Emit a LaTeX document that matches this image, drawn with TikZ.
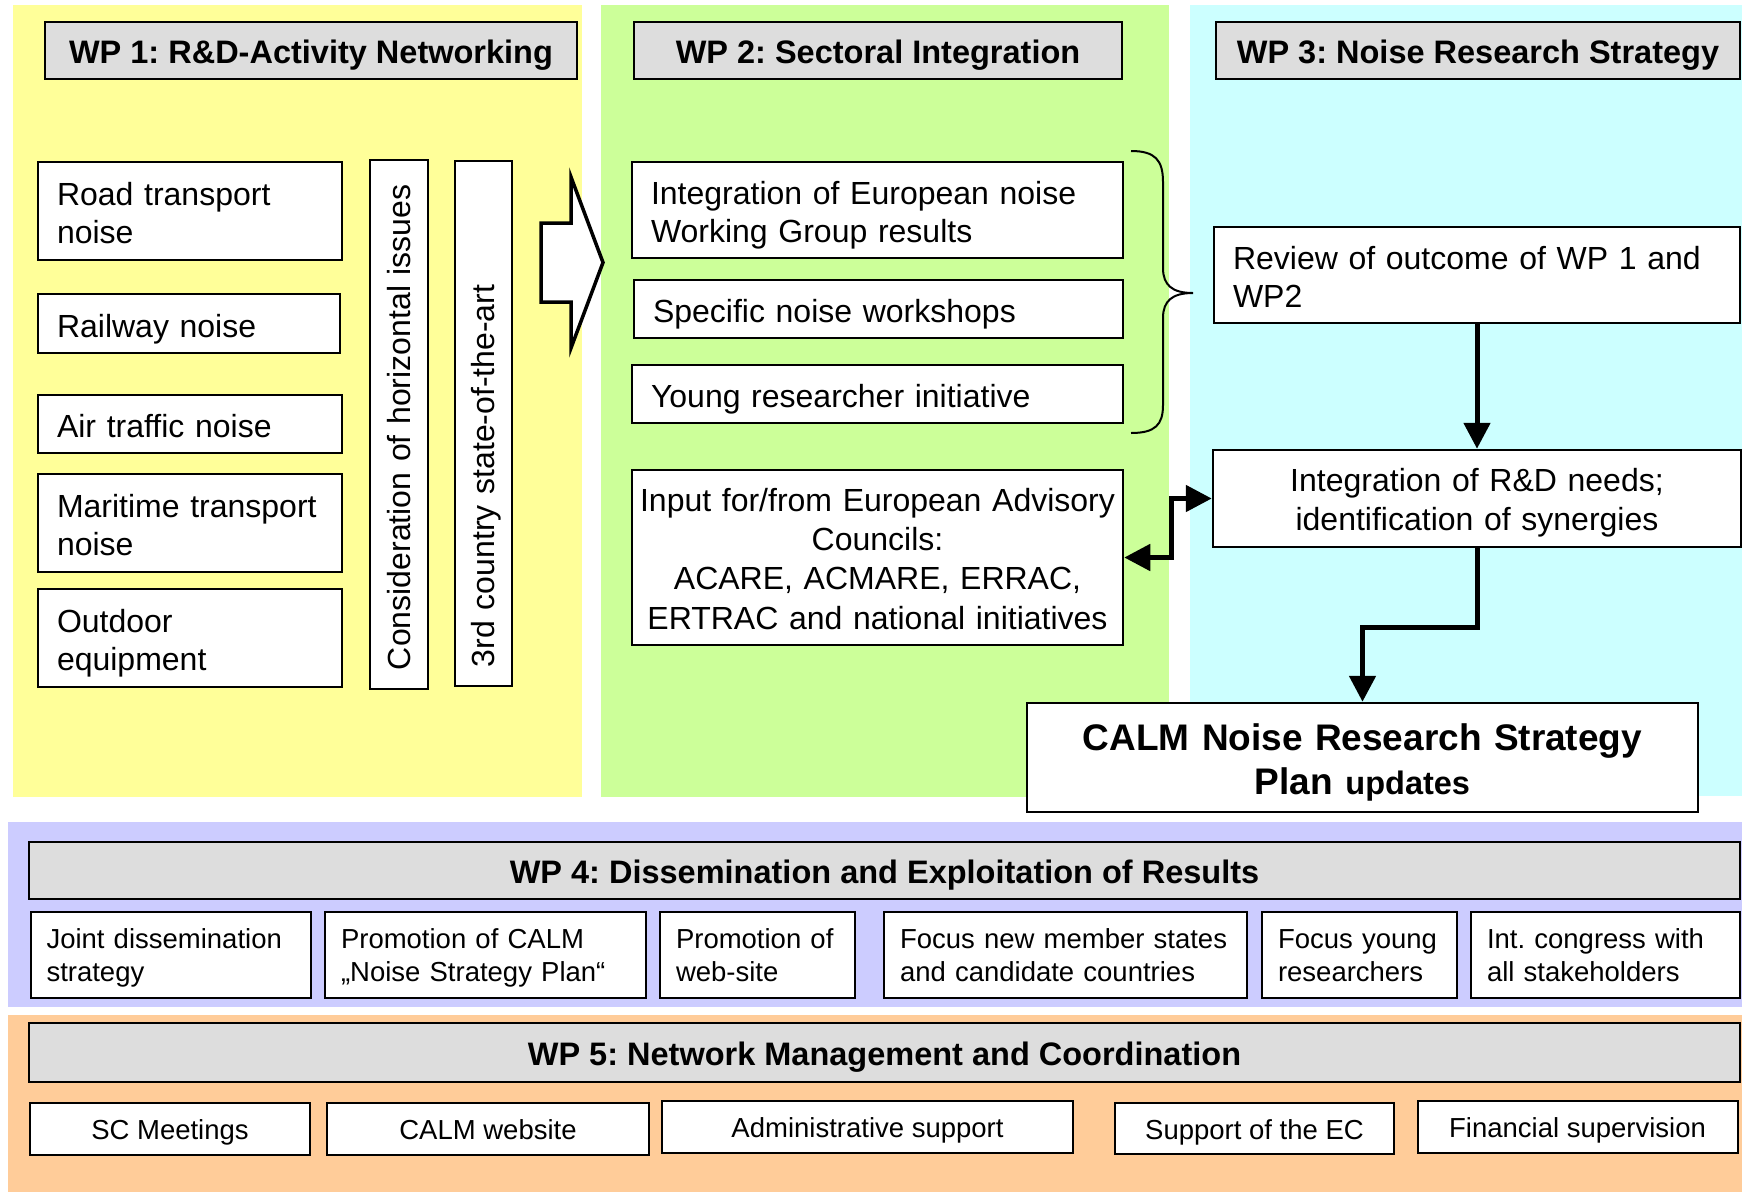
\documentclass[tikz,border=0pt]{standalone}
\usepackage{fontspec}
\setmainfont{Liberation Sans}
\usetikzlibrary{arrows.meta,calc}
\frenchspacing
\definecolor{cyel}{RGB}{255,255,153}
\definecolor{cgrn}{RGB}{204,255,153}
\definecolor{ccyn}{RGB}{204,255,255}
\definecolor{clav}{RGB}{204,204,255}
\definecolor{corg}{RGB}{255,204,153}
\definecolor{tgray}{RGB}{221,221,221}
\tikzset{
  strut/.style 2 args={execute at begin node={\rule[-#2pt]{0pt}{\dimexpr#1pt+#2pt\relax}}, execute at end node={\rule[-#2pt]{0pt}{#2pt}}},
  ttl/.style={draw, line width=2.2pt, fill=tgray, font=\fontsize{32.5}{38}\selectfont\bfseries, align=center, inner sep=0pt, minimum height=57pt, strut={34}{8}},
  lbox/.style={draw, line width=2.5pt, fill=white, font=\fontsize{32}{38.7}\selectfont, align=left, inner xsep=19pt, inner ysep=0pt, strut={35}{8}},
  cbox/.style={draw, line width=2.5pt, fill=white, font=\fontsize{32}{39.3}\selectfont, align=center, inner sep=0pt, strut={33.5}{8}},
  vbox/.style={draw, line width=2.2pt, fill=white, font=\fontsize{32}{38}\selectfont, rotate=90, align=left, inner ysep=0pt, minimum height=58pt, strut={30.5}{8}},
  sbox/.style={draw, line width=2pt, fill=white, font=\fontsize{27.5}{32.7}\selectfont, align=left, inner xsep=16pt, inner ysep=0pt, minimum height=86pt, strut={27}{7}},
  scbox/.style={draw, line width=2pt, fill=white, font=\fontsize{27.5}{32.7}\selectfont, align=center, inner sep=0pt, minimum height=52pt, strut={28}{7}},
  conn/.style={line width=5pt, -{Triangle[length=26pt,width=26pt]}},
  conn2/.style={line width=5pt, {Triangle[length=26pt,width=26pt]}-{Triangle[length=26pt,width=26pt]}},
}
\begin{document}
\begin{tikzpicture}[x=1pt,y=-1pt]
\useasboundingbox (0,0) rectangle (1742,1192);
% panels
\fill[cyel] (13,5) rectangle (582,797);
\fill[cgrn] (601,5) rectangle (1169,797);
\fill[ccyn] (1190,5) rectangle (1742,796);
\fill[clav] (8,822) rectangle (1742,1007);
\fill[corg] (8,1015) rectangle (1742,1192);
% titles
\node[ttl, minimum width=532pt] (t1) at (311,50.5) {WP 1: R\&D-Activity Networking};
\node[ttl, minimum width=488pt] (t2) at (878,50.5) {WP 2: Sectoral Integration};
\node[ttl, minimum width=524pt] (t3) at (1478,50.5) {WP 3: Noise Research Strategy};
\node[ttl, minimum width=1711pt] (t4) at (884.5,870.5) {WP 4: Dissemination and Exploitation of Results};
\node[ttl, minimum width=1711pt, minimum height=59pt] (t5) at (884.5,1052.5) {WP 5: Network Management and Coordination};
% WP1
\node[lbox, text width=266pt, minimum height=98pt] (road) at (190,211) {Road transport\\noise};
\node[lbox, text width=264pt, minimum height=59pt] (rail) at (189,323.5) {Railway noise};
\node[lbox, text width=266pt, minimum height=58pt] (air) at (190,424) {Air traffic noise};
\node[lbox, text width=266pt, minimum height=98pt] (mar) at (190,523) {Maritime transport\\noise};
\node[lbox, text width=266pt, minimum height=98pt] (out) at (190,638) {Outdoor\\equipment};
\node[vbox, inner xsep=19pt, text width=491pt] (vert1) at (399,424.5) {\mbox{Consideration of horizontal issues}};
\node[vbox, inner xsep=19pt, text width=487pt, minimum height=57pt] (vert2) at (483.5,423.5) {\mbox{3rd country state-of-the-art}};
% big hollow arrow
\draw[line width=3.5pt, fill=white, line join=miter] (541,223) -- (571,223) -- (571,177) -- (603,262.5) -- (571,348) -- (571,302) -- (541,302) -- cycle;
% WP2
\node[lbox, text width=453pt, minimum height=96pt] (int) at (877.5,210) {Integration of European noise\\Working Group results};
\node[lbox, text width=451pt, minimum height=58pt] (spec) at (878.5,309) {Specific noise workshops};
\node[lbox, text width=453pt, minimum height=58pt] (young) at (877.5,394) {Young researcher initiative};
\node[cbox, text width=491pt, minimum height=175pt] (input) at (877.5,557.5) {Input for/from European Advisory\\Councils:\\ACARE, ACMARE, ERRAC,\\ERTRAC and national initiatives};
% brace
\draw[line width=2pt] (1131,151) .. controls (1155,151) and (1163,160) .. (1163,182) -- (1163,268) .. controls (1163,285) and (1172,293) .. (1193,293) .. controls (1172,293) and (1163,301) .. (1163,318) -- (1163,405) .. controls (1163,425) and (1155,433) .. (1131,433);
% WP3
\node[lbox, text width=488pt, minimum height=96pt] (review) at (1477,275) {Review of outcome of WP 1 and\\WP2};
\node[cbox, text width=528pt, minimum height=97pt] (rd) at (1477,498.5) {Integration of R\&D needs;\\identification of synergies};
\node[cbox, text width=671pt, minimum height=109pt, font=\fontsize{37}{44}\selectfont\bfseries, strut={39.5}{9}] (calm) at (1362.5,757.5) {CALM Noise Research Strategy\\Plan {\fontsize{32.5}{44}\selectfont updates}};
% connectors
\draw[conn] (review.south) -- (rd.north);
\draw[conn2] (input.east) -- ++(47,0) |- (rd.west);
\draw[conn] (rd.south) -- ++(0,79) -| (calm.north);
% WP4
\node[sbox, text width=248pt] (a1) at (170.5,955) {Joint dissemination\\strategy};
\node[sbox, text width=289pt] (a2) at (485.5,955) {Promotion of CALM\\„Noise Strategy Plan“};
\node[sbox, text width=163pt] (a3) at (757.5,955) {Promotion of\\web-site};
\node[sbox, text width=331pt] (a4) at (1065.5,955) {Focus new member states\\and candidate countries};
\node[sbox, text width=163pt] (a5) at (1359.5,955) {Focus young\\researchers};
\node[sbox, text width=237pt] (a6) at (1605.5,955) {Int. congress with\\all stakeholders};
% WP5
\node[scbox, minimum width=280pt] (b1) at (170,1129) {SC Meetings};
\node[scbox, minimum width=322pt] (b2) at (488,1129) {CALM website};
\node[scbox, minimum width=411pt] (b3) at (867.5,1127) {Administrative support};
\node[scbox, minimum width=279pt, minimum height=51pt] (b4) at (1254.5,1128.5) {Support of the EC};
\node[scbox, minimum width=320pt] (b5) at (1577.5,1127) {Financial supervision};
\end{tikzpicture}
\end{document}
